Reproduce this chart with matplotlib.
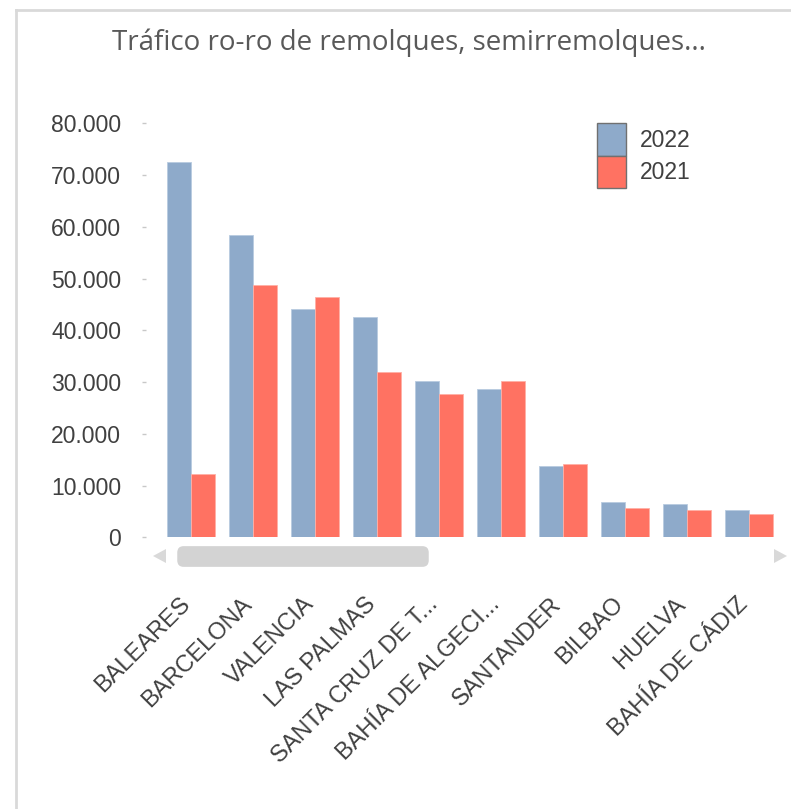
import matplotlib
matplotlib.use('Agg')
import matplotlib.pyplot as plt
from matplotlib import font_manager
from matplotlib.patches import Patch, FancyBboxPatch, Polygon
from matplotlib.ticker import FuncFormatter
import numpy as np

# Data
puertos = ['BALEARES', 'BARCELONA', 'VALENCIA', 'LAS PALMAS', 'SANTA CRUZ DE T...',
           'BAHÍA DE ALGECI...', 'SANTANDER', 'BILBAO', 'HUELVA', 'BAHÍA DE CÁDIZ']
valores_2022 = [72500, 58350, 44050, 42600, 30250, 28700, 13700, 6900, 6450, 5300]
valores_2021 = [12250, 48750, 46400, 31950, 27600, 30250, 14150, 5750, 5300, 4500]
series = ['2022', '2021']
y_ticks = [0, 10000, 20000, 30000, 40000, 50000, 60000, 70000, 80000]

names = {f.name for f in font_manager.fontManager.ttflist}
label_font = 'Liberation Sans Narrow' if 'Liberation Sans Narrow' in names else 'Liberation Sans'

W, H = 791, 809
fig = plt.figure(figsize=(W / 100, H / 100), dpi=100)

def fx(px):
    return px / W

def fy(py):
    return 1 - py / H

# outer frame (top and left lines only visible)
fig.add_artist(plt.Line2D([fx(16), fx(16)], [fy(10), 0], color='#d9d9d9', lw=2))
fig.add_artist(plt.Line2D([fx(16), 1], [fy(10), fy(10)], color='#d9d9d9', lw=2))

# plot area
ax_left, ax_right = 146, 780
ax_top, ax_bottom = 123.3, 537.3
ax = fig.add_axes([fx(ax_left), fy(ax_bottom), fx(ax_right - ax_left), (ax_bottom - ax_top) / H])

c22 = '#8EAACA'
c21 = '#FF7262'
x = np.arange(len(puertos))
w = 0.385
ax.bar(x - w / 2, valores_2022, w, color=c22, edgecolor='#b8cbe0', linewidth=0.6, label=series[0])
ax.bar(x + w / 2, valores_2021, w, color=c21, edgecolor='#ffb0a6', linewidth=0.6, label=series[1])

unit = 62.0
ax.set_xlim(-(190.7 - ax_left) / unit, (ax_right - 190.7) / unit)
ax.set_ylim(0, 80000)
ax.set_yticks(y_ticks)
ax.yaxis.set_major_formatter(FuncFormatter(lambda v, p: f'{int(v):,}'.replace(',', '.')))
for s in ax.spines.values():
    s.set_visible(False)
ax.tick_params(axis='y', length=3, width=1, color='#c8c8c8', pad=15,
               labelsize=16.5, labelcolor='#404040')
for lab in ax.get_yticklabels():
    lab.set_fontfamily(label_font)

ax.set_xticks(x)
ax.set_xticklabels([])
ax.tick_params(axis='x', length=0)
for i, name in enumerate(puertos):
    ax.annotate(name, xy=(i, 0), xycoords=('data', 'axes fraction'),
                xytext=(-12, -56), textcoords='offset pixels',
                rotation=45, ha='right', va='top', rotation_mode='anchor',
                fontsize=17, color='#404040', family=label_font)

# legend
handles = [Patch(facecolor=c22, edgecolor='#707070', linewidth=1),
           Patch(facecolor=c21, edgecolor='#707070', linewidth=1)]
leg = ax.legend(handles, series, loc='upper left',
                bbox_to_anchor=((597 - ax_left) / (ax_right - ax_left), 1.0),
                frameon=False, handlelength=1.25, handleheight=1.8, labelspacing=0.0,
                handletextpad=0.6, borderpad=0, borderaxespad=0,
                prop={'family': label_font, 'size': 16.5})
for t in leg.get_texts():
    t.set_color('#404040')

# title
fig.text(fx(409), fy(43), 'Tráfico ro-ro de remolques, semirremolques...',
         ha='center', va='center', fontsize=20, color='#595959', family='Open Sans')

# scroll bar
fig.add_artist(FancyBboxPatch((fx(182), fy(562)), fx(242), (562 - 551) / H,
                              boxstyle='round,pad=0.006,rounding_size=0.008',
                              facecolor='#d3d3d3', edgecolor='none'))
fig.add_artist(Polygon([(fx(153), fy(556)), (fx(166), fy(549)), (fx(166), fy(563))],
                       closed=True, facecolor='#d9d9d9', edgecolor='none'))
fig.add_artist(Polygon([(fx(787), fy(556)), (fx(774), fy(549)), (fx(774), fy(563))],
                       closed=True, facecolor='#d9d9d9', edgecolor='none'))

fig.savefig('out.png', dpi=100)
